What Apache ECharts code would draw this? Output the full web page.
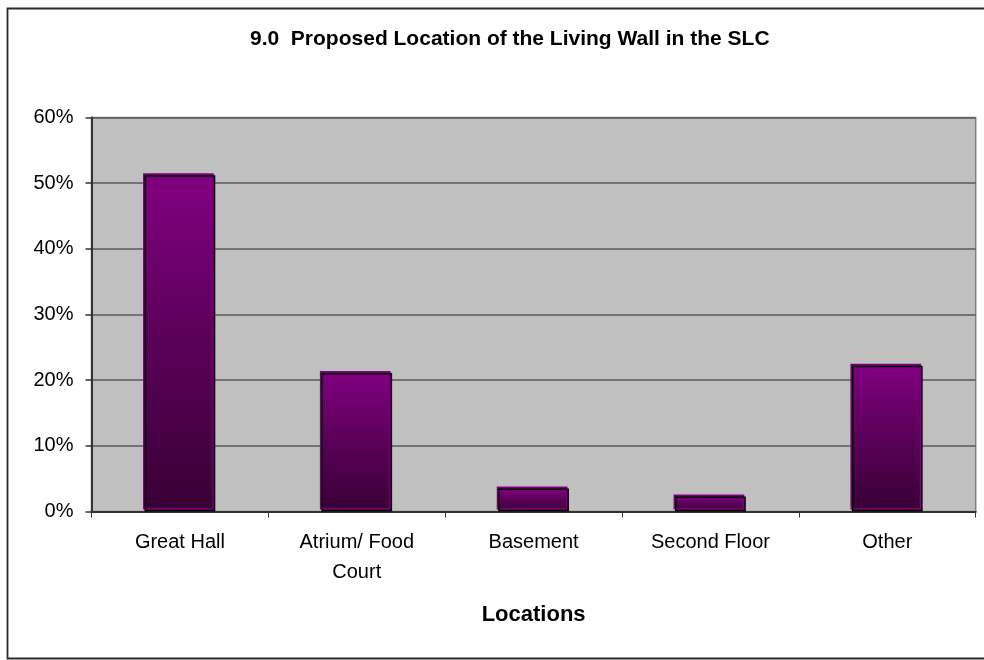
<!DOCTYPE html>
<html>
<head>
<meta charset="utf-8">
<style>
html,body{margin:0;padding:0;background:#fff;}
#chart{width:984px;height:660px;}
</style>
<script src="https://cdn.jsdelivr.net/npm/echarts@6/dist/echarts.min.js"></script>
</head>
<body>
<div id="chart"></div>
<script>
const titleText = '9.0  Proposed Location of the Living Wall in the SLC';
const categories = ['Great Hall', 'Atrium/ Food\nCourt', 'Basement', 'Second Floor', 'Other'];
const values = [51.2, 21.1, 3.5, 2.3, 22.2];
const yTicks = [0, 10, 20, 30, 40, 50, 60];
const xAxisTitle = 'Locations';

const chart = echarts.init(document.getElementById('chart'), null, {renderer: 'canvas'});
const FONT = 'Arial, "Liberation Sans", sans-serif';

chart.setOption({
  animation: false,
  backgroundColor: '#ffffff',
  title: {
    text: titleText,
    left: 250,
    top: 29,
    padding: 0,
    textStyle: {fontFamily: FONT, fontSize: 21, fontWeight: 'bold', color: '#000'}
  },
  graphic: [{
    type: 'rect',
    shape: {x: 7.5, y: 8.5, width: 1000, height: 650},
    style: {fill: null, stroke: '#2a2a2a', lineWidth: 1.8},
    silent: true, z: 100
  }],
  grid: {
    left: 91.5, right: 8.3, top: 117.5, bottom: 148.5,
    show: true, backgroundColor: '#c0c0c0', borderColor: '#808080', borderWidth: 1.5
  },
  xAxis: {
    type: 'category',
    data: categories,
    name: xAxisTitle,
    nameLocation: 'middle',
    nameGap: 92,
    nameTextStyle: {fontFamily: FONT, fontSize: 22, fontWeight: 'bold', color: '#000', lineHeight: 22},
    axisLine: {show: true, lineStyle: {color: '#333', width: 2}},
    axisTick: {show: true, length: 6, lineStyle: {color: '#333', width: 1}},
    axisLabel: {fontFamily: FONT, fontSize: 20, color: '#000', margin: 16, lineHeight: 30, interval: 0}
  },
  yAxis: {
    type: 'value',
    min: yTicks[0],
    max: yTicks[yTicks.length - 1],
    interval: 10,
    axisLine: {show: true, lineStyle: {color: '#333', width: 2}},
    axisTick: {show: true, length: 6, lineStyle: {color: '#333', width: 1.5}},
    axisLabel: {fontFamily: FONT, fontSize: 20, color: '#000', margin: 18, formatter: '{value}%'},
    splitLine: {show: true, lineStyle: {color: '#5a5a5a', width: 1.5}}
  },
  series: [{
    type: 'bar',
    data: values,
    barCategoryGap: '60%',
    itemStyle: {
      color: new echarts.graphic.LinearGradient(0, 0, 0, 1, [
        {offset: 0, color: '#800080'},
        {offset: 0.5, color: '#5a0058'},
        {offset: 1, color: '#380034'}
      ]),
      borderColor: '#000',
      borderWidth: 1.5,
      shadowColor: '#7a007a',
      shadowBlur: 0,
      shadowOffsetX: -1.5,
      shadowOffsetY: -2
    }
  }]
});
</script>
</body>
</html>
